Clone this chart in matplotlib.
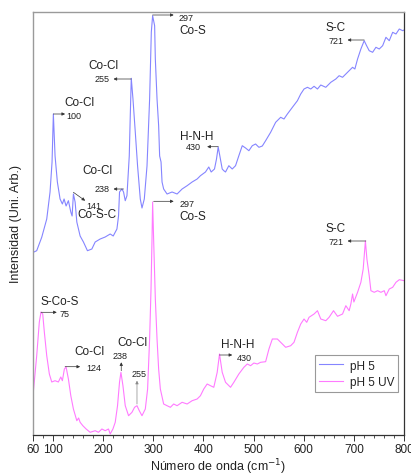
import matplotlib
matplotlib.use("Agg")
import matplotlib.pyplot as plt
from matplotlib.ticker import MultipleLocator, FixedLocator

plt.rcParams['font.family'] = ['Liberation Sans', 'DejaVu Sans']

# ---- data (arbitrary intensity units) ----
w_ph5 = [60.6, 67.4, 77.4, 87.4, 94, 98, 100.6, 104, 108.6, 114, 118.6, 122, 126, 130.6, 135.4, 138,
         140.6, 144, 147.4, 154, 160.6, 168.6, 177.4, 184, 194, 204, 214, 220, 227.4, 230.6, 232.6,
         237.4, 240.6, 244, 247.4, 252, 254, 256, 259.4, 264, 268.6, 274, 277.4, 282, 287.4, 292.6,
         296, 298.6, 302.6, 304, 307.4, 310.6, 312.6, 315.4, 317.4, 320.6, 327.4, 337.4, 347.4,
         357.4, 367.4, 377.4, 387.4, 394, 404, 410.6, 415.4, 422, 426, 429.4, 432.6, 437.4, 440.6,
         444, 450.6, 457.4, 464, 470.6, 477.4, 484, 490.6, 497.4, 504, 510.6, 517.4, 524, 534, 544,
         554, 560.6, 567.4, 577.4, 587.4, 594, 600.6, 607.4, 614, 620.6, 627.4, 634, 644, 654, 664,
         670.6, 677.4, 684, 690.6, 697.4, 702, 707.4, 714, 720.6, 725.4, 730.6, 737.4, 744, 750.6,
         757.4, 764, 770.6, 777.4, 784, 790.6, 797.4, 804]
i_ph5 = [182.7, 184.3, 197.7, 216, 243, 273, 321, 279, 253, 236, 231, 236, 229, 234.3, 223, 219,
         241, 233, 213, 199, 193, 184.3, 186, 193, 196, 198, 201, 199, 206, 219, 243,
         246, 243, 234.3, 239.3, 279, 319, 356.7, 336, 303, 269, 236, 227, 236, 269, 336,
         403, 419.3, 409.3, 376, 336, 309.3, 279, 273, 253, 246, 241, 243, 241,
         246, 249.3, 253, 256, 259.3, 263, 268, 263, 266, 276, 288, 279.3, 266, 264.3,
         263, 269.3, 266, 269.3, 279.3, 289.3, 287, 284.3, 289.3, 291, 287.7, 289, 294.3, 302.7, 312.7,
         317.7, 316, 321, 327.7, 334.3, 341, 346, 347.7, 346, 348.7, 346, 350, 347.7, 352.7, 356,
         359.3, 357.7, 361, 364.3, 367.7, 366, 376, 386, 394.3, 389.3, 384.3, 382.7, 387.7, 386,
         389.3, 397.7, 394.3, 402.7, 401, 406, 404.3, 406]

w_ph5uv = [60.6, 67.4, 72.6, 76, 79.4, 82.6, 87.4, 92.6, 97.4, 104, 110.6, 115.4, 118.6, 122.6, 126,
           130.6, 135.4, 140.6, 147.4, 151, 154, 159.4, 166, 174, 184, 190.6, 197.4, 204, 210.6, 214,
           219.4, 224, 228.6, 232.6, 235.4, 239.4, 244, 250.6, 257.4, 262.6, 267.4, 272, 277.4, 284,
           288.6, 292.6, 295.4, 297.4, 298.6, 300.6, 304, 307.4, 310.6, 314, 320.6, 327.4, 334, 340.6,
           347.4, 357.4, 367.4, 377.4, 387.4, 394, 400.6, 407.4, 414, 420.6, 427.4, 432, 437.4, 444,
           454, 460.6, 470.6, 480.6, 487.4, 494, 500.6, 507.4, 514, 524, 530.6, 537.4, 547.4, 557.4,
           564, 574, 580.6, 587.4, 594, 600.6, 606, 610.6, 620.6, 627.4, 634, 644, 650.6, 659.4, 667.4,
           677.4, 684, 690.6, 694, 697.4, 700, 707.4, 714, 718.6, 723, 726, 730.6, 734, 740.6, 747.4,
           754, 760.6, 764, 770.6, 777.4, 784, 790.6, 800.6]
i_ph5uv = [42.7, 79.3, 113, 123, 121, 103, 79.3, 61, 53, 54.3, 53, 58, 54.3, 66, 68,
           56, 39.3, 26, 14.3, 17, 12.7, 9.3, 6, 2.7, 4.3, 2.7, 6, 4.3, 6, 1,
           6, 12.7, 29.3, 53, 62.7, 49.3, 29.3, 19.3, 22.7, 27.7, 29.3, 24.3, 19.3, 26,
           46, 96, 146, 196, 233, 196, 136, 96, 66, 46, 31, 29.3, 27.7, 31,
           29.3, 32.7, 31, 34.3, 36, 39.3, 46, 51, 49.3, 47.7, 62.7, 81, 62.7, 52.7,
           47.7, 52.7, 61, 67.7, 71, 69.3, 72, 71, 72.7, 73.3, 86, 96, 96, 91,
           87.7, 89.3, 92.7, 102.7, 111, 116, 112.7, 117.7, 121, 124.3, 116, 114.3, 117.7, 124.3, 118.7,
           121, 129.3, 124.3, 131, 141, 133, 142.7, 152.7, 166, 194, 176, 159.3, 144.3, 142.7, 144.3,
           142.7, 144.3, 139.3, 146, 147.7, 152.7, 155.3, 154.3]

series_labels = ["pH 5", "pH 5 UV"]
x_ticks = [60, 100, 200, 300, 400, 500, 600, 700, 800]
x_tick_labels = ["60", "100", "200", "300", "400", "500", "600", "700", "800"]

c_blue = '#8585ff'
c_mag = '#ff7aff'
tc = '#222222'

fig = plt.figure(figsize=(4.11, 4.77), dpi=100)
ax = fig.add_axes([33/411, 41/477, 371/411, 423/477])

ax.plot(w_ph5, i_ph5, color=c_blue, lw=0.8, label=series_labels[0])
ax.plot(w_ph5uv, i_ph5uv, color=c_mag, lw=0.8, label=series_labels[1])

ax.set_xlim(60, 800)
ax.set_ylim(0, 423)
ax.xaxis.set_major_locator(FixedLocator(x_ticks))
ax.set_xticklabels(x_tick_labels)
ax.xaxis.set_minor_locator(MultipleLocator(20))
ax.set_yticks([])
ax.tick_params(axis='x', which='major', direction='out', length=4, width=0.7,
               colors='#333333', labelsize=8.5, pad=2, labelcolor=tc)
ax.tick_params(axis='x', which='minor', direction='out', length=2.5, width=0.6, colors='#333333')
for s in ['top', 'left']:
    ax.spines[s].set_color('#9a9a9a')
    ax.spines[s].set_linewidth(1.0)
for s in ['bottom', 'right']:
    ax.spines[s].set_color('#333333')
    ax.spines[s].set_linewidth(0.9)

ax.set_xlabel('Número de onda (cm$^{-1}$)', fontsize=9, color=tc, labelpad=1)
ax.set_ylabel('Intensidad (Uni. Arb.)', fontsize=9, color=tc, labelpad=8)

LF = 8.5   # label font
NF = 6.5   # number font
ap = dict(arrowstyle='-|>', lw=0.5, color='#333333', mutation_scale=4.5, shrinkA=0, shrinkB=0)
ap_g = dict(arrowstyle='-|>', lw=0.5, color='#888888', mutation_scale=4.5, shrinkA=0, shrinkB=0)

def arrow(x0, y0, x1, y1, props=ap):
    ax.annotate('', xy=(x1, y1), xytext=(x0, y0), arrowprops=props)

def txt(x, y, s, size, ha='center'):
    ax.text(x, y, s, fontsize=size, ha=ha, va='center', color=tc)

# ---- pH 5 annotations ----
arrow(298.6, 420, 340.6, 420); txt(366, 417.7, '297', NF); txt(378, 405, 'Co-S', LF)
txt(200.6, 370.3, 'Co-Cl', LF); txt(197.4, 356, '255', NF); arrow(256, 356, 220.6, 356)
txt(152, 332.7, 'Co-Cl', LF); arrow(100.6, 321, 124, 321); txt(126, 319.5, '100', NF, ha='left')
txt(189.4, 265.3, 'Co-Cl', LF); txt(197.4, 246, '238', NF); arrow(240.6, 246, 220.6, 246)
arrow(140.6, 242.7, 164, 234.3); txt(180.6, 229.5, '141', NF); txt(187.4, 220.5, 'Co-S-C', LF)
txt(387.4, 298.7, 'H-N-H', LF); txt(380.6, 288.3, '430', NF); arrow(429.4, 288.3, 407.4, 288.3)
txt(664, 407.7, 'S-C', LF); txt(664, 394.3, '721', NF); arrow(720.6, 395, 687.4, 395)

# ---- pH 5 UV annotations ----
arrow(300.6, 233.7, 340.6, 233.7); txt(367.4, 231, '297', NF); txt(378, 219, 'Co-S', LF)
txt(664, 207, 'S-C', LF); txt(664, 193.7, '721', NF); arrow(724, 194, 687.4, 194)
txt(114, 133.7, 'S-Co-S', LF); arrow(76, 122.7, 107.4, 122.7); txt(122.6, 121.5, '75', NF)
txt(172.6, 83.7, 'Co-Cl', LF); txt(180.6, 67.7, '124', NF); arrow(124, 68.3, 154, 68.3)
txt(258.6, 92.7, 'Co-Cl', LF); txt(234, 79.3, '238', NF); arrow(236, 64.3, 236, 72.7)
txt(270.6, 61, '255', NF); arrow(267.4, 31, 267.4, 54.3, ap_g)
txt(467.4, 91, 'H-N-H', LF); txt(480.6, 77.7, '430', NF); arrow(432, 80, 457.4, 80)

leg = ax.legend(loc='lower right', bbox_to_anchor=(0.985, 0.102), borderaxespad=0,
                fontsize=8.5, frameon=True, fancybox=False, framealpha=1,
                edgecolor='#999999', handlelength=2.0, handletextpad=0.6,
                labelspacing=0.35, borderpad=0.35)
leg.get_frame().set_linewidth(0.8)
for t in leg.get_texts():
    t.set_color(tc)

fig.savefig('out.png', dpi=100)
